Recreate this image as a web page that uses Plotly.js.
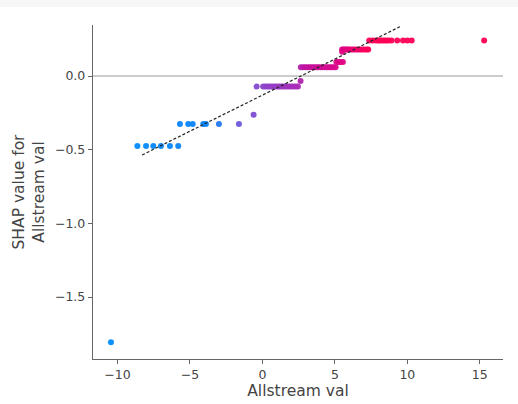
<!DOCTYPE html>
<html>
<head>
<meta charset="utf-8">
<script src="https://cdn.plot.ly/plotly-3.0.1.min.js"></script>
<style>html,body{margin:0;padding:0;background:#fff;}#chart{width:518px;height:404px;}</style>
</head>
<body>
<div id="chart"></div>
<script>
// Feature values (Allstream val) and SHAP values
const featureX = [
  -10.45,
  -8.63, -8.03, -7.53, -7.0, -6.38, -5.81,
  -5.69, -5.12, -4.81, -4.08, -3.90, -3.0, -1.62,
  -0.61,
  -0.4, 0.05, 0.2, 0.35, 0.5, 0.65, 0.8, 0.95, 1.1, 1.25, 1.4, 1.55, 1.7, 1.85, 2.0, 2.15, 2.3, 2.45,
  2.63,
  2.65, 2.8, 2.95, 3.1, 3.25, 3.4, 3.55, 3.7, 3.85, 4.0, 4.15, 4.3, 4.45, 4.6, 4.75, 4.9, 5.05,
  5.1, 5.25, 5.4, 5.55,
  5.5,
  5.5, 5.6, 5.7, 5.8, 5.9, 6.0, 6.15, 6.3, 6.45, 6.6, 6.75, 6.9, 7.05, 7.2, 7.3,
  7.37, 7.6, 7.83, 8.0, 8.1, 8.25, 8.4, 8.55, 8.7, 8.9, 9.3, 9.7, 10.0, 10.3,
  15.3
];
const shapY = [
  -1.806,
  -0.475, -0.475, -0.475, -0.475, -0.475, -0.475,
  -0.326, -0.326, -0.326, -0.326, -0.326, -0.326, -0.326,
  -0.263,
  -0.072, -0.072, -0.072, -0.072, -0.072, -0.072, -0.072, -0.072, -0.072, -0.072, -0.072, -0.072, -0.072, -0.072, -0.072, -0.072, -0.072, -0.072,
  -0.034,
  0.059, 0.059, 0.059, 0.059, 0.059, 0.059, 0.059, 0.059, 0.059, 0.059, 0.059, 0.059, 0.059, 0.059, 0.059, 0.059, 0.059,
  0.095, 0.095, 0.095, 0.095,
  0.165,
  0.18, 0.18, 0.18, 0.18, 0.18, 0.18, 0.18, 0.18, 0.18, 0.18, 0.18, 0.18, 0.18, 0.18, 0.18,
  0.24, 0.24, 0.24, 0.24, 0.24, 0.24, 0.24, 0.24, 0.24, 0.24, 0.24, 0.24, 0.24, 0.24,
  0.24
];
// Dashed trend line end points
const trendX = [-8.3, 9.6];
const trendY = [-0.536, 0.34];

const xTicks = [-10, -5, 0, 5, 10, 15];
const yTicks = [-1.5, -1.0, -0.5, 0.0];

const font = 'DejaVu Sans, sans-serif';

const traces = [
  {
    x: featureX, y: shapY, type: 'scatter', mode: 'markers',
    marker: {
      size: 6, color: featureX, cmin: -10.45, cmax: 15.3, opacity: 0.95,
      colorscale: [
        [0, '#008bfb'], [0.27, '#0a82f6'], [0.345, '#7058d8'], [0.41, '#8c44cc'],
        [0.5, '#a82cb8'], [0.52, '#c0129f'], [0.6, '#d80a8c'], [0.63, '#e2007f'],
        [0.69, '#ff0058'], [1, '#ff0052']
      ],
      line: {width: 0}
    },
    hoverinfo: 'x+y', showlegend: false
  },
  {
    x: trendX, y: trendY, type: 'scatter', mode: 'lines',
    line: {color: '#222', width: 1.2, dash: '3px,2px'},
    showlegend: false, hoverinfo: 'skip'
  }
];

const layout = {
  width: 518, height: 404,
  margin: {l: 93, r: 15, t: 25, b: 45},
  paper_bgcolor: '#ffffff', plot_bgcolor: '#ffffff',
  font: {family: font, color: '#444', size: 12.5},
  showlegend: false,
  xaxis: {
    range: [-11.69, 16.6], tickvals: xTicks, ticktext: xTicks.map(v => v < 0 ? '\u2212' + Math.abs(v) : String(v)),
    showgrid: false, zeroline: false, showline: true, linecolor: '#666', linewidth: 1.2,
    ticks: 'outside', ticklen: 4, tickcolor: '#666', tickwidth: 1,
    tickfont: {family: font, size: 12.5, color: '#444'},
    title: {text: 'Allstream val', font: {family: font, size: 15.5, color: '#444'}, standoff: 3}
  },
  yaxis: {
    range: [-1.92, 0.346], tickvals: yTicks, ticktext: yTicks.map(v => (v < 0 ? '\u2212' : '') + Math.abs(v).toFixed(1)),
    showgrid: false, zeroline: true, zerolinecolor: '#cccccc', zerolinewidth: 1.5,
    showline: true, linecolor: '#666', linewidth: 1.2,
    ticks: 'outside', ticklen: 4, tickcolor: '#666', tickwidth: 1,
    tickfont: {family: font, size: 12.5, color: '#444'},
    title: {text: 'SHAP value for<br>Allstream val', font: {family: font, size: 15.5, color: '#444'}, standoff: 6}
  },
  shapes: [
    {type: 'rect', xref: 'paper', yref: 'paper', x0: -0.3, x1: 1.1, y0: 1 + 18/334, y1: 1 + 25/334,
     fillcolor: '#f7f7f7', line: {width: 0}, layer: 'below'}
  ]
};

Plotly.newPlot('chart', traces, layout, {displayModeBar: false, staticPlot: true});
</script>
</body>
</html>
